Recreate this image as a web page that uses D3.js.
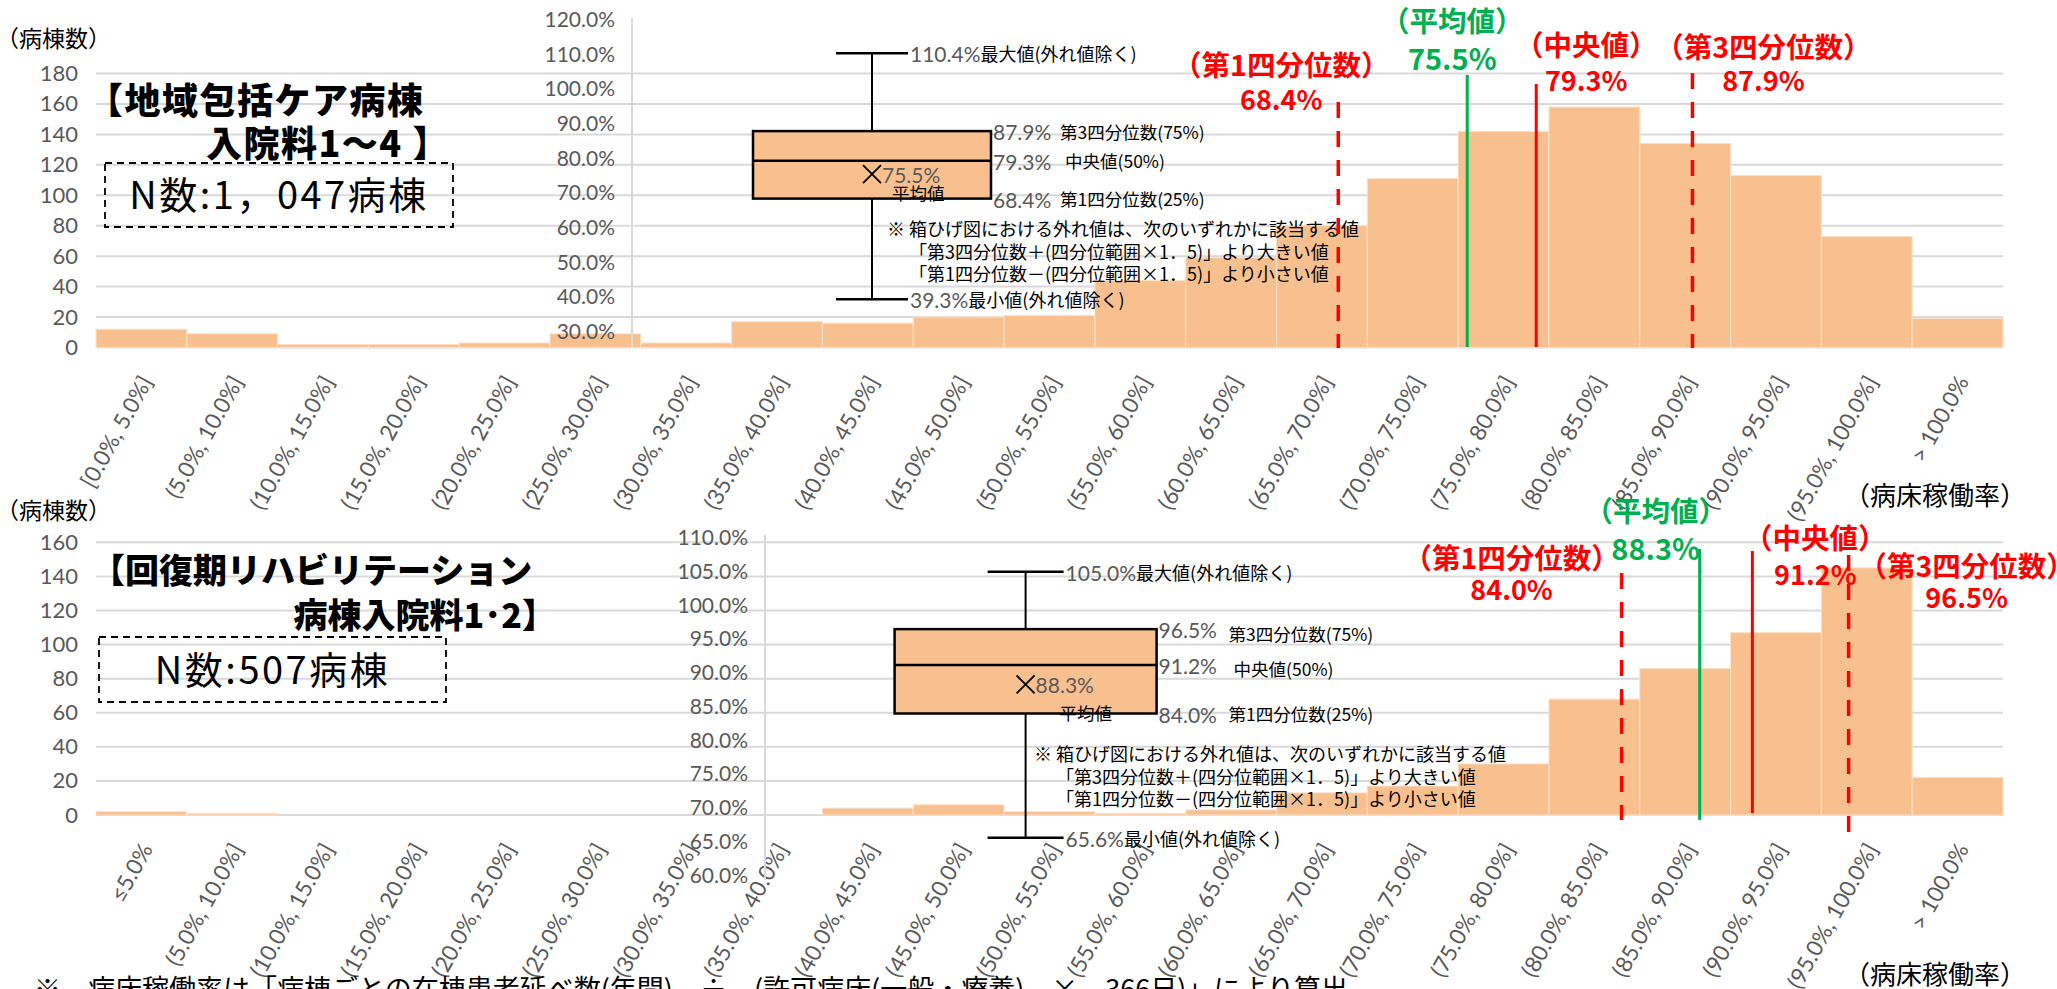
<!DOCTYPE html>
<html><head><meta charset="utf-8">
<script src="https://cdn.jsdelivr.net/npm/d3@7"></script>
<style>
html,body{margin:0;padding:0;background:#fff;overflow:hidden;}
svg{display:block;}
</style></head><body>
<svg id="chart" width="2057" height="989"></svg>
<script>
// ---------- DATA ----------
const categoriesTop = ["[0.0%, 5.0%]","(5.0%, 10.0%]","(10.0%, 15.0%]","(15.0%, 20.0%]","(20.0%, 25.0%]","(25.0%, 30.0%]","(30.0%, 35.0%]","(35.0%, 40.0%]","(40.0%, 45.0%]","(45.0%, 50.0%]","(50.0%, 55.0%]","(55.0%, 60.0%]","(60.0%, 65.0%]","(65.0%, 70.0%]","(70.0%, 75.0%]","(75.0%, 80.0%]","(80.0%, 85.0%]","(85.0%, 90.0%]","(90.0%, 95.0%]","(95.0%, 100.0%]","> 100.0%"];
const countsTop = [12,9,2,2,3,9,3,17,16,20,21,44,59,80,111,142,158,134,113,73,19];
const categoriesBottom = ["≤5.0%","(5.0%, 10.0%]","(10.0%, 15.0%]","(15.0%, 20.0%]","(20.0%, 25.0%]","(25.0%, 30.0%]","(30.0%, 35.0%]","(35.0%, 40.0%]","(40.0%, 45.0%]","(45.0%, 50.0%]","(50.0%, 55.0%]","(55.0%, 60.0%]","(60.0%, 65.0%]","(65.0%, 70.0%]","(70.0%, 75.0%]","(75.0%, 80.0%]","(80.0%, 85.0%]","(85.0%, 90.0%]","(90.0%, 95.0%]","(95.0%, 100.0%]","> 100.0%"];
const countsBottom = [2,1,0,0,0,0,0,0,4,6,2,1,3,13,17,30,68,86,107,145,22];

const countTicksTop = [0,20,40,60,80,100,120,140,160,180];
const countTicksBottom = [0,20,40,60,80,100,120,140,160];
const boxTicksTop = [30,40,50,60,70,80,90,100,110,120];
const boxTicksBottom = [60,65,70,75,80,85,90,95,100,105,110];

// stats order: min, q1, median, mean, q3, max
const statsTop = [39.3, 68.4, 79.3, 75.5, 87.9, 110.4];
const statsBottom = [65.6, 84.0, 91.2, 88.3, 96.5, 105.0];

const titleTop = ["【地域包括ケア病棟", "入院料1～4 】"];
const titleBottom = ["【回復期リハビリテーション", "病棟入院料1･2】"];
const nTextTop = "N数:1，047病棟";
const nTextBottom = "N数:507病棟";
const noteLines = ["※  箱ひげ図における外れ値は、次のいずれかに該当する値",
                   "「第3四分位数＋(四分位範囲×1．5)」より大きい値",
                   "「第1四分位数－(四分位範囲×1．5)」より小さい値"];
const footnote = "※　病床稼働率は「病棟ごとの在棟患者延べ数(年間)　÷　(許可病床(一般・療養)　×　366日)」により算出";
const markerNames = ["（第1四分位数）", "（平均値）", "（中央値）", "（第3四分位数）"];

// ---------- STYLE ----------
const svg = d3.select("#chart");
const JP = "'Noto Sans CJK JP','Noto Sans CJK SC',sans-serif";
const NUM = "Lato,'Liberation Sans',sans-serif";
const BAR = "#F9C08F";
const GRID = "#D9D9D9";
const GRAYTXT = "#595959";
const RED = "#FF0000", GREEN = "#00B050";

function panel(p) {
  const g = svg.append("g");
  const x = d3.scaleBand().domain(p.categories).range([p.left, p.right]).padding(0);
  const y = d3.scaleLinear().domain([0, d3.max(p.countTicks)]).range([p.bottom, p.top]);
  const xPct = d3.scaleLinear().domain([0, 105]).range([p.left, p.right]);

  // gridlines
  g.append("g").selectAll("line").data(p.countTicks).join("line")
    .attr("x1", p.left).attr("x2", p.right)
    .attr("y1", d => y(d)).attr("y2", d => y(d))
    .attr("stroke", GRID).attr("stroke-width", 2);

  // left axis
  const ax = g.append("g").attr("transform", `translate(${p.left},0)`)
    .call(d3.axisLeft(y).tickValues(p.countTicks).tickSize(0).tickPadding(18));
  ax.select(".domain").remove();
  ax.selectAll("text").attr("font-family", NUM).attr("font-size", 22).attr("fill", GRAYTXT);

  // axis titles
  g.append("text").attr("x", -4).attr("y", p.yTitleY)
    .attr("font-family", JP).attr("font-size", 23).attr("fill", "#000").text("（病棟数）");
  g.append("text").attr("x", 2026).attr("y", p.xTitleY).attr("text-anchor", "end")
    .attr("font-family", JP).attr("font-size", 26).attr("fill", "#000").text("（病床稼働率）");

  // bars
  g.append("g").selectAll("rect").data(p.counts).join("rect")
    .attr("x", (d, i) => x(p.categories[i])).attr("width", x.bandwidth())
    .attr("y", d => y(d)).attr("height", d => y(0) - y(d))
    .attr("fill", BAR).attr("stroke", "#FCE1C8").attr("stroke-width", 1);

  // x axis labels
  const xa = g.append("g").attr("transform", `translate(0,${p.bottom})`)
    .call(d3.axisBottom(x).tickSize(0));
  xa.select(".domain").remove();
  xa.selectAll("text")
    .attr("y", 0).attr("dy", 0)
    .attr("text-anchor", "end")
    .attr("transform", "translate(12,34) rotate(-61)")
    .attr("font-family", NUM).attr("font-size", 22.5).attr("fill", GRAYTXT);

  // title
  g.append("text").attr("x", p.title1X).attr("y", p.title1Y).attr("letter-spacing", p.titleLS)
    .attr("font-family", JP).attr("font-weight", 900).attr("font-size", p.titleSize).text(p.title[0]);
  g.append("text").attr("x", p.title2X).attr("y", p.title2Y).attr("text-anchor", "end").attr("letter-spacing", p.titleLS)
    .attr("font-family", JP).attr("font-weight", 900).attr("font-size", p.titleSize).text(p.title[1]);

  // N box
  g.append("rect").attr("x", p.nBox[0]).attr("y", p.nBox[1]).attr("width", p.nBox[2]).attr("height", p.nBox[3])
    .attr("fill", "none").attr("stroke", "#000").attr("stroke-width", 1.8).attr("stroke-dasharray", "7,5");
  g.append("text").attr("x", p.nBox[0] + p.nBox[2] / 2).attr("y", p.nTextY).attr("text-anchor", "middle")
    .attr("font-family", JP).attr("font-size", 38).attr("letter-spacing", 2.5).text(p.nText);

  // ----- box plot -----
  const yb = d3.scaleLinear().domain(p.boxDomain).range(p.boxRange);
  g.append("line").attr("x1", p.boxAxisX).attr("x2", p.boxAxisX)
    .attr("y1", p.boxAxisExtent[0]).attr("y2", p.boxAxisExtent[1])
    .attr("stroke", GRID).attr("stroke-width", 2);
  const bax = g.append("g").attr("transform", `translate(${p.boxAxisX},0)`)
    .call(d3.axisLeft(yb).tickValues(p.boxTicks).tickSize(0).tickPadding(17).tickFormat(d => d.toFixed(1) + "%"));
  bax.select(".domain").remove();
  bax.selectAll("text").attr("font-family", NUM).attr("font-size", 21).attr("fill", GRAYTXT);

  const [mn, q1, med, mean, q3, mx] = p.stats;
  const cx = p.boxCx, bw = p.boxW, cw = p.capW;
  const bl = cx - bw / 2, br = cx + bw / 2;
  const bg = g.append("g").attr("stroke", "#000");
  bg.append("line").attr("x1", cx).attr("x2", cx).attr("y1", yb(mx)).attr("y2", yb(q3)).attr("stroke-width", 2);
  bg.append("line").attr("x1", cx).attr("x2", cx).attr("y1", yb(q1)).attr("y2", yb(mn)).attr("stroke-width", 2);
  bg.append("line").attr("x1", cx - cw / 2).attr("x2", cx + cw / 2).attr("y1", yb(mx)).attr("y2", yb(mx)).attr("stroke-width", 2.5);
  bg.append("line").attr("x1", cx - cw / 2).attr("x2", cx + cw / 2).attr("y1", yb(mn)).attr("y2", yb(mn)).attr("stroke-width", 2.5);
  bg.append("rect").attr("x", bl).attr("width", bw).attr("y", yb(q3)).attr("height", yb(q1) - yb(q3))
    .attr("fill", BAR).attr("stroke-width", 2.5);
  bg.append("line").attr("x1", bl).attr("x2", br).attr("y1", yb(med)).attr("y2", yb(med)).attr("stroke-width", 2.5);

  function statLabel(xp, yp, val, name) {
    const t = g.append("text").attr("x", xp).attr("y", yp).attr("dominant-baseline", "central");
    t.append("tspan").attr("font-family", NUM).attr("font-size", 21).attr("fill", GRAYTXT).text(val.toFixed(1) + "%");
    if (name) t.append("tspan").attr("font-family", JP).attr("font-size", 18).attr("fill", "#000").text(name);
  }
  statLabel(cx + cw / 2 + 2, yb(mx), mx, "最大値(外れ値除く)");
  statLabel(cx + cw / 2 + 2, yb(mn), mn, "最小値(外れ値除く)");
  statLabel(br + 2, yb(q3), q3, null);
  statLabel(br + 2, yb(med), med, null);
  statLabel(br + 2, yb(q1), q1, null);
  g.append("text").attr("x", br + p.qLabelDx).attr("y", yb(q3) + p.qLabelDy).attr("dominant-baseline", "central")
    .attr("font-family", JP).attr("font-size", 17.5).text("第3四分位数(75%)");
  g.append("text").attr("x", br + p.qLabelDx + 5).attr("y", yb(med) + p.qLabelDy).attr("dominant-baseline", "central")
    .attr("font-family", JP).attr("font-size", 17.5).text("中央値(50%)");
  g.append("text").attr("x", br + p.qLabelDx).attr("y", yb(q1)).attr("dominant-baseline", "central")
    .attr("font-family", JP).attr("font-size", 17.5).text("第1四分位数(25%)");
  // mean marker
  const mk = 9;
  bg.append("path").attr("d", `M${cx - mk},${yb(mean) - mk}L${cx + mk},${yb(mean) + mk}M${cx - mk},${yb(mean) + mk}L${cx + mk},${yb(mean) - mk}`)
    .attr("stroke-width", 1.8).attr("fill", "none");
  g.append("text").attr("x", cx + mk + 1).attr("y", yb(mean)).attr("dominant-baseline", "central")
    .attr("font-family", NUM).attr("font-size", 21).attr("fill", GRAYTXT).text(mean.toFixed(1) + "%");
  g.append("text").attr("x", cx + p.meanLblDx).attr("y", yb(mean) + p.meanLblDy).attr("dominant-baseline", "central")
    .attr("font-family", JP).attr("font-size", 17.5).text("平均値");

  // note
  g.append("g").selectAll("text").data(noteLines).join("text")
    .attr("x", (d, i) => p.noteX + (i ? 22 : 0)).attr("y", (d, i) => p.noteY + i * 22.7)
    .attr("dominant-baseline", "central")
    .attr("font-family", JP).attr("font-size", 18).text(d => d);

  // ----- marker lines -----
  const markers = [
    {v: q1, color: RED, dash: "16,13", w: 3.5, i: 0},
    {v: mean, color: GREEN, dash: null, w: 3, i: 1},
    {v: med, color: RED, dash: null, w: 3, i: 2},
    {v: q3, color: RED, dash: "16,13", w: 3.5, i: 3}
  ];
  markers.forEach(m => {
    g.append("line").attr("x1", xPct(m.v)).attr("x2", xPct(m.v))
      .attr("y1", p.lineTops[m.i]).attr("y2", p.lineBots[m.i])
      .attr("stroke", m.color).attr("stroke-width", m.w).attr("stroke-dasharray", m.dash);
    const lb = p.lbl[m.i];
    const lx = xPct(m.v) + lb[0];
    g.append("text").attr("x", lx).attr("y", lb[1]).attr("text-anchor", "middle")
      .attr("font-family", JP).attr("font-weight", 700).attr("font-size", 28.5).attr("fill", m.color).text(markerNames[m.i]);
    g.append("text").attr("x", lx).attr("y", lb[2]).attr("text-anchor", "middle")
      .attr("font-family", JP).attr("font-weight", 700).attr("font-size", m.color === GREEN ? 29 : 27).attr("fill", m.color)
      .text(m.v.toFixed(1) + "%");
  });
}

panel({
  categories: categoriesTop, counts: countsTop, countTicks: countTicksTop,
  left: 96, right: 2003, top: 73.5, bottom: 347.5,
  yTitleY: 47, xTitleY: 505,
  title: titleTop, title1X: 87, title1Y: 114, title2X: 450, title2Y: 157, titleSize: 36, titleLS: 1.5,
  nBox: [105, 163, 348, 64], nText: nTextTop, nTextY: 209,
  boxDomain: [30, 120], boxRange: [331.5, 20], boxTicks: boxTicksTop,
  boxAxisX: 632, boxAxisExtent: [18, 347],
  stats: statsTop, boxCx: 872, boxW: 238, capW: 72,
  qLabelDx: 69, qLabelDy: 0, meanLblDx: 20, meanLblDy: 18,
  noteX: 887, noteY: 228,
  lineTops: [102, 75, 84, 73], lineBots: [348, 347, 347, 348],
  lbl: [[-57, 76, 110], [-15, 32, 70], [50, 56, 91], [71, 58, 91]]
});

panel({
  categories: categoriesBottom, counts: countsBottom, countTicks: countTicksBottom,
  left: 96, right: 2003, top: 542.3, bottom: 815,
  yTitleY: 519, xTitleY: 984,
  title: titleBottom, title1X: 91, title1Y: 583, title2X: 556, title2Y: 628, titleSize: 34, titleLS: 0,
  nBox: [99, 637, 347, 65], nText: nTextBottom, nTextY: 684,
  boxDomain: [60, 110], boxRange: [875.5, 538], boxTicks: boxTicksBottom,
  boxAxisX: 765, boxAxisExtent: [535, 880],
  stats: statsBottom, boxCx: 1025.6, boxW: 262, capW: 76,
  qLabelDx: 72, qLabelDy: 4, meanLblDx: 34, meanLblDy: 28,
  noteX: 1034, noteY: 753,
  lineTops: [573, 549, 551, 555], lineBots: [820, 820, 813, 832],
  lbl: [[-110, 569, 600], [-44, 522, 560], [63, 549, 585], [118, 577, 608]]
});

// footnote (cut at bottom edge, as in the reference)
svg.append("text").attr("x", 34).attr("y", 999)
  .attr("font-family", JP).attr("font-size", 27).text(footnote);
</script>
</body></html>
